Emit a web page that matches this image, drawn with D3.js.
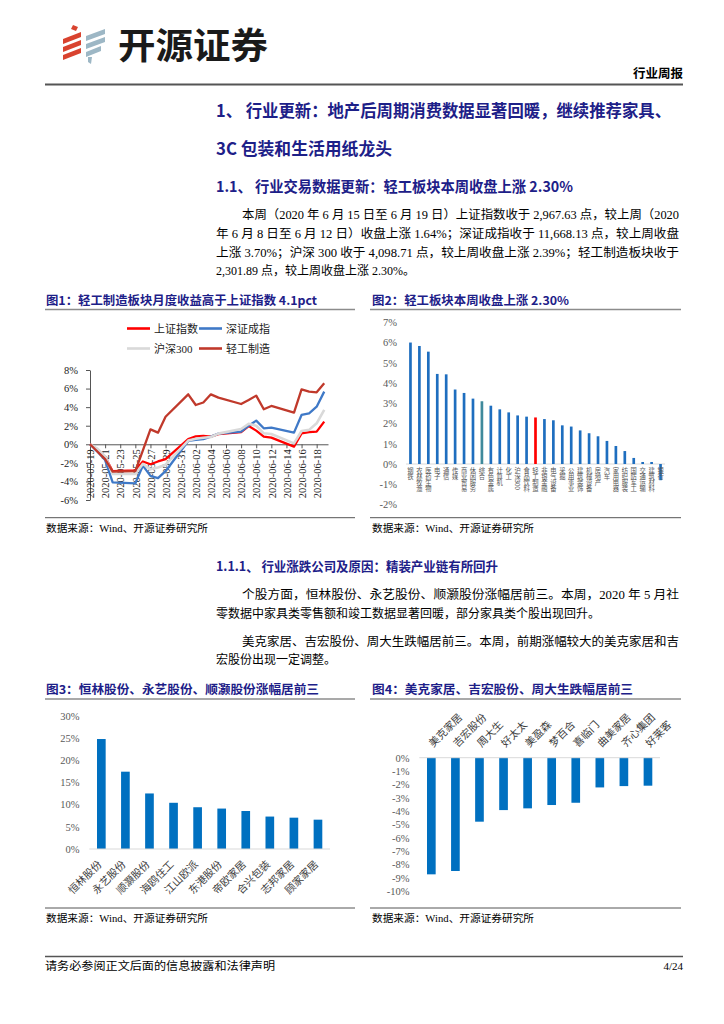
<!DOCTYPE html>
<html><head><meta charset="utf-8">
<script src="https://cdn.jsdelivr.net/npm/d3@7"></script>
<style>body{margin:0;background:#fff} svg{display:block}</style>
</head><body>
<svg id="page" width="724" height="1024"></svg>
<script>
// ---------- DATA ----------
const tradeDates = ['2020-05-19','2020-05-20','2020-05-21','2020-05-22','2020-05-25','2020-05-26','2020-05-27','2020-05-28','2020-05-29','2020-06-01','2020-06-02','2020-06-03','2020-06-04','2020-06-05','2020-06-08','2020-06-09','2020-06-10','2020-06-11','2020-06-12','2020-06-15','2020-06-16','2020-06-17','2020-06-18','2020-06-19'];
const sseIdx   = [0,-0.6,-1.35,-2.9,-2.8,-1.85,-2.15,-1.85,-1.6,0.57,0.85,0.9,0.82,1.1,1.3,1.97,1.47,0.83,0.72,-0.25,1.18,1.3,1.36,2.44];
const szseIdx  = [0,-0.8,-1.7,-4.1,-4.2,-2.3,-3.4,-3.65,-2.9,0.36,0.48,0.55,0.82,1.15,1.36,2.0,2.55,1.72,1.8,1.26,3.16,3.34,4.05,5.67];
const hs300Idx = [0,-0.5,-1.3,-3.2,-3.2,-2.1,-2.7,-2.5,-2.2,0.4,0.6,0.7,0.78,1.15,1.65,2.2,2.0,1.18,1.1,0.1,1.43,1.55,2.26,3.7];
const lightIdx = [0,-0.8,-1.6,-2.95,-2.9,-0.65,1.6,1.25,2.97,5.38,4.23,4.5,5.38,5.02,4.34,4.77,5.24,3.77,4.13,3.41,5.92,5.67,5.6,6.57];
const seriesNames1 = ['上证指数','深证成指','沪深300','轻工制造'];
const xTickLabels1 = ['2020-05-19','2020-05-21','2020-05-23','2020-05-25','2020-05-27','2020-05-29','2020-05-31','2020-06-02','2020-06-04','2020-06-06','2020-06-08','2020-06-10','2020-06-12','2020-06-14','2020-06-16','2020-06-18'];
const yTicks1 = [-6,-4,-2,0,2,4,6,8];

const industries = ['钢铁','农林牧渔','医药生物','电子','通信','传媒','商业贸易','休闲服务','综合','有色金属','计算机','化工','沪深300','食品饮料','轻工制造','非银金融','电气设备','采掘','公用事业','建筑装饰','机械设备','房地产','汽车','家用电器','纺织服装','国防军工','交通运输','建筑材料','银行'];
const industryChg = [6.0,5.83,5.55,4.45,4.43,3.68,3.51,3.23,3.1,2.88,2.7,2.55,2.4,2.34,2.3,2.22,2.16,1.91,1.85,1.66,1.52,1.37,1.14,0.89,0.64,0.3,0.1,0.1,-0.8];
const yTicks2 = [-2,-1,0,1,2,3,4,5,6,7];

const gainers = ['恒林股份','永艺股份','顺灏股份','海鸥住工','江山欧派','东港股份','帝欧家居','合兴包装','志邦家居','顾家家居'];
const gainerChg = [24.75,17.4,12.5,10.4,9.4,9.1,8.55,7.3,7.05,6.6];
const yTicks3 = [0,5,10,15,20,25,30];

const losers = ['美克家居','吉宏股份','周大生','好太太','美盈森','梦百合','喜临门','曲美家居','齐心集团','好莱客'];
const loserChg = [-8.75,-8.5,-4.8,-3.93,-3.8,-3.55,-3.38,-2.23,-2.13,-2.1];
const yTicks4 = [0,-1,-2,-3,-4,-5,-6,-7,-8,-9,-10];

// ---------- STYLE ----------
const SERIF = '"Liberation Serif","Noto Sans CJK SC",serif';
const CJK = '"Noto Sans CJK SC","Liberation Serif",sans-serif';
const NAVY = '#1d2088';
const svg = d3.select('#page');

function txt(x, y, s, o = {}) {
  const t = svg.append('text').attr('x', x).attr('y', y).text(s)
    .attr('font-family', o.family || SERIF)
    .attr('font-size', o.size || 12)
    .attr('fill', o.fill || '#000');
  if (o.bold) t.attr('font-weight', 'bold');
  if (o.anchor) t.attr('text-anchor', o.anchor);
  if (o.len) t.attr('textLength', o.len).attr('lengthAdjust', 'spacingAndGlyphs');
  return t;
}
function hline(x1, x2, y, color, w) {
  svg.append('line').attr('x1', x1).attr('x2', x2).attr('y1', y).attr('y2', y)
    .attr('stroke', color).attr('stroke-width', w);
}

// ---------- HEADER ----------
const red = '#d9432f', steel = '#9db7c5';
[[[73,25],[78,27],[76,31],[71,29]],
 [[63,39],[81,32],[81,37],[63,44]],
 [[63,47],[81,40],[81,45],[63,52]],
 [[63,55],[81,48],[81,53],[63,60]]].forEach(p => svg.append('polygon').attr('points', p.join(' ')).attr('fill', red));
[[[86,36],[105,29],[105,34],[86,41]],
 [[86,44],[105,37],[105,42],[86,49]],
 [[86,52],[101,46],[101,51],[86,57]],
 [[88,57],[92,57],[91,64],[88,62]]].forEach(p => svg.append('polygon').attr('points', p.join(' ')).attr('fill', steel));
txt(118, 59, '开源证券', {family: CJK, size: 36, bold: true, fill: '#1a1a1a', len: 150});
txt(683, 78, '行业周报', {family: CJK, size: 12.5, bold: true, anchor: 'end'});
hline(45, 683, 84.5, '#555', 2);

// ---------- SECTION TEXT ----------
txt(216, 117, '1、 行业更新：地产后周期消费数据显著回暖，继续推荐家具、', {family: CJK, size: 17, bold: true, fill: NAVY, len: 455});
txt(216, 154.5, '3C 包装和生活用纸龙头', {family: CJK, size: 17, bold: true, fill: NAVY, len: 176});
txt(216, 192, '1.1、 行业交易数据更新：轻工板块本周收盘上涨 2.30%', {family: CJK, size: 15, bold: true, fill: NAVY, len: 357});

txt(242, 219, '本周（2020 年 6 月 15 日至 6 月 19 日）上证指数收于 2,967.63 点，较上周（2020', {size: 12, len: 437});
txt(216, 237.5, '年 6 月 8 日至 6 月 12 日）收盘上涨 1.64%；深证成指收于 11,668.13 点，较上周收盘', {size: 12, len: 463});
txt(216, 256.5, '上涨 3.70%；沪深 300 收于 4,098.71 点，较上周收盘上涨 2.39%；轻工制造板块收于', {size: 12, len: 463});
txt(216, 275, '2,301.89 点，较上周收盘上涨 2.30%。', {size: 12});

txt(216, 571, '1.1.1、 行业涨跌公司及原因：精装产业链有所回升', {family: CJK, size: 13, bold: true, fill: NAVY, len: 282});
txt(242, 599, '个股方面，恒林股份、永艺股份、顺灏股份涨幅居前三。本周，2020 年 5 月社', {size: 12, len: 437});
txt(216, 617.5, '零数据中家具类零售额和竣工数据显著回暖，部分家具类个股出现回升。', {size: 12});
txt(242, 646, '美克家居、吉宏股份、周大生跌幅居前三。本周，前期涨幅较大的美克家居和吉', {size: 12, len: 437});
txt(216, 664, '宏股份出现一定调整。', {size: 12});

// figure titles & frames
txt(46, 304.5, '图1：轻工制造板块月度收益高于上证指数 4.1pct', {family: CJK, size: 12, bold: true, fill: NAVY, len: 271});
txt(372, 304.5, '图2：轻工板块本周收盘上涨 2.30%', {family: CJK, size: 12, bold: true, fill: NAVY, len: 197});
txt(46, 693.5, '图3：恒林股份、永艺股份、顺灏股份涨幅居前三', {family: CJK, size: 12, bold: true, fill: NAVY, len: 273});
txt(372, 693.5, '图4：美克家居、吉宏股份、周大生跌幅居前三', {family: CJK, size: 12, bold: true, fill: NAVY, len: 261});
hline(45, 355, 309.5, '#8c8c8c', 1.5); hline(370, 681, 309.5, '#8c8c8c', 1.5);
hline(45, 355, 699, '#8c8c8c', 1.5); hline(370, 681, 699, '#8c8c8c', 1.5);
hline(45, 355, 517.7, '#555', 1); hline(370, 681, 517.7, '#555', 1);
hline(45, 355, 908, '#555', 1); hline(370, 681, 908, '#555', 1);
[[46,531.5],[372,531.5],[46,921.5],[372,921.5]].forEach(([x,y]) =>
  txt(x, y, '数据来源：Wind、开源证券研究所', {size: 10.5, len: 162}));

// footer
hline(45, 683, 956.5, '#555', 1.5);
txt(45, 970, '请务必参阅正文后面的信息披露和法律声明', {size: 11, len: 230});
txt(683, 970, '4/24', {size: 11, anchor: 'end'});

// ---------- CHART 1 ----------
(function () {
  const parse = d3.utcParse('%Y-%m-%d');
  const x = d3.scaleUtc().domain([parse('2020-05-19'), new Date(Date.UTC(2020, 5, 19, 12))]).range([90, 328]);
  const y = d3.scaleLinear().domain([-6, 8]).range([500, 370]);
  const g = svg.append('g');
  const colors = ['#ff0000', '#3f79c7', '#d9d9d9', '#c0392b'];
  const allSeries = [sseIdx, szseIdx, hs300Idx, lightIdx];

  // y axis
  const ya = g.append('g').attr('transform', 'translate(90,0)')
    .call(d3.axisLeft(y).tickValues(yTicks1).tickFormat(d => d + '%').tickSize(4).tickSizeOuter(0).tickPadding(8));
  ya.selectAll('text').attr('font-family', SERIF).attr('font-size', 10.5).attr('fill', '#222');
  ya.selectAll('line,path').attr('stroke', '#555');

  // x axis at 0
  const xa = g.append('g').attr('transform', `translate(0,${y(0)})`)
    .call(d3.axisBottom(x).tickValues(xTickLabels1.map(parse)).tickFormat(d3.utcFormat('%Y-%m-%d')).tickSize(4).tickSizeOuter(0));
  xa.selectAll('line,path').attr('stroke', '#555');
  xa.selectAll('text').attr('font-family', SERIF).attr('font-size', 10.5).attr('fill', '#222')
    .attr('transform', 'rotate(-90)').attr('text-anchor', 'end').attr('x', -5).attr('y', 0).attr('dy', '0.35em');

  const line = d3.line().x(d => x(d.date)).y(d => y(d.v));
  allSeries.forEach((vals, i) => {
    const data = tradeDates.map((d, j) => ({date: parse(d), v: vals[j]}));
    g.append('path').datum(data).attr('d', line).attr('fill', 'none')
      .attr('stroke', colors[i]).attr('stroke-width', i === 2 ? 2.6 : 2.3).attr('stroke-linejoin', 'round');
  });

  // legend
  const lg = [[127, 328.5], [199, 328.5], [127, 348.5], [199, 348.5]];
  seriesNames1.forEach((n, i) => {
    const [lx, ly] = lg[i];
    g.append('line').attr('x1', lx).attr('x2', lx + 23).attr('y1', ly).attr('y2', ly)
      .attr('stroke', colors[i]).attr('stroke-width', 2.6);
    g.append('text').attr('x', lx + 27).attr('y', ly + 4).text(n)
      .attr('font-family', SERIF).attr('font-size', 11).attr('fill', '#222');
  });
})();

// ---------- CHART 2 ----------
(function () {
  const x = d3.scaleBand().domain(industries).range([406, 665]).paddingInner(0.7).paddingOuter(0.35);
  const y = d3.scaleLinear().domain([-2, 7]).range([504.5, 322.3]);
  const g = svg.append('g');
  const ya = g.append('g').attr('transform', 'translate(397,0)')
    .call(d3.axisLeft(y).tickValues(yTicks2).tickFormat(d => d + '%').tickSize(0).tickPadding(0));
  ya.select('.domain').remove();
  ya.selectAll('text').attr('font-family', SERIF).attr('font-size', 10.5).attr('fill', '#595959');
  g.append('line').attr('x1', 406).attr('x2', 665).attr('y1', y(0)).attr('y2', y(0)).attr('stroke', '#d9d9d9');
  g.selectAll('rect.b').data(industries).join('rect')
    .attr('x', d => x(d)).attr('width', x.bandwidth())
    .attr('y', (d, i) => Math.min(y(industryChg[i]), y(0)))
    .attr('height', (d, i) => Math.abs(y(industryChg[i]) - y(0)))
    .attr('fill', d => d === '轻工制造' ? '#ff0000' : (d === '综合' ? '#3f8a9c' : '#1e6ebf'));
  g.selectAll('text.c').data(industries).join('text')
    .attr('x', d => x(d) + x.bandwidth() / 2).attr('y', 467)
    .attr('style', 'writing-mode: vertical-rl')
    .attr('font-family', CJK).attr('font-size', 6.3).attr('fill', '#595959')
    .text(d => d);
})();

// ---------- CHART 3 ----------
(function () {
  const x = d3.scaleBand().domain(gainers).range([89.3, 330]).paddingInner(0.64).paddingOuter(0.32);
  const y = d3.scaleLinear().domain([0, 30]).range([849, 715.7]);
  const g = svg.append('g');
  const ya = g.append('g').attr('transform', 'translate(79.5,0)')
    .call(d3.axisLeft(y).tickValues(yTicks3).tickFormat(d => d + '%').tickSize(0).tickPadding(0));
  ya.select('.domain').remove();
  ya.selectAll('text').attr('font-family', SERIF).attr('font-size', 10.5).attr('fill', '#595959');
  g.selectAll('rect').data(gainers).join('rect')
    .attr('x', d => x(d)).attr('width', x.bandwidth())
    .attr('y', (d, i) => y(gainerChg[i])).attr('height', (d, i) => y(0) - y(gainerChg[i]))
    .attr('fill', '#0070c0');
  g.append('line').attr('x1', 89.3).attr('x2', 330).attr('y1', y(0)).attr('y2', y(0)).attr('stroke', '#d9d9d9');
  g.selectAll('text.c').data(gainers).join('text')
    .attr('transform', d => `translate(${x(d) + x.bandwidth() / 2 + 1},${y(0) + 16}) rotate(-45)`)
    .attr('text-anchor', 'end').attr('font-family', CJK).attr('font-size', 10.5).attr('fill', '#404040')
    .text(d => d);
})();

// ---------- CHART 4 ----------
(function () {
  const x = d3.scaleBand().domain(losers).range([419.3, 660]).paddingInner(0.64).paddingOuter(0.32);
  const y = d3.scaleLinear().domain([-10, 0]).range([891, 757.7]);
  const g = svg.append('g');
  const ya = g.append('g').attr('transform', 'translate(409.5,0)')
    .call(d3.axisLeft(y).tickValues(yTicks4).tickFormat(d => d + '%').tickSize(0).tickPadding(0));
  ya.select('.domain').remove();
  ya.selectAll('text').attr('font-family', SERIF).attr('font-size', 10.5).attr('fill', '#595959');
  g.selectAll('rect').data(losers).join('rect')
    .attr('x', d => x(d)).attr('width', x.bandwidth())
    .attr('y', y(0)).attr('height', (d, i) => y(loserChg[i]) - y(0))
    .attr('fill', '#0070c0');
  g.append('line').attr('x1', 419.3).attr('x2', 660).attr('y1', y(0)).attr('y2', y(0)).attr('stroke', '#d9d9d9');
  g.selectAll('text.c').data(losers).join('text')
    .attr('transform', d => `translate(${x(d) + x.bandwidth() / 2 + 2},${y(0) - 10}) rotate(-45)`)
    .attr('text-anchor', 'start').attr('font-family', CJK).attr('font-size', 10.5).attr('fill', '#404040')
    .text(d => d);
})();
</script>
</body></html>
